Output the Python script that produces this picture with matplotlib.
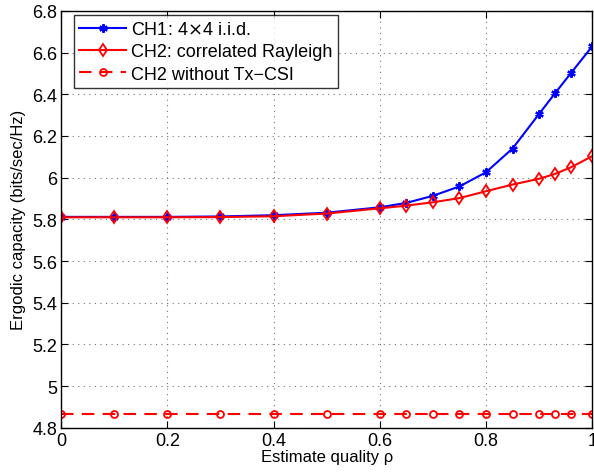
import matplotlib.pyplot as plt

plt.rcParams['font.family'] = ['Liberation Sans', 'DejaVu Sans']

rho = [0, 0.1, 0.2, 0.3, 0.4, 0.5, 0.6, 0.65, 0.7, 0.75, 0.8, 0.85, 0.9, 0.93, 0.96, 1.0]
ch1 = [5.812, 5.812, 5.812, 5.814, 5.820, 5.832, 5.858, 5.879, 5.913, 5.958,
       6.026, 6.140, 6.306, 6.405, 6.502, 6.630]
ch2 = [5.810, 5.810, 5.810, 5.811, 5.815, 5.828, 5.853, 5.866, 5.882, 5.902,
       5.935, 5.967, 5.995, 6.018, 6.050, 6.103]
ch2_nocsi = [4.865] * len(rho)

fig = plt.figure(figsize=(5.94, 4.77), dpi=100)
ax = fig.add_axes([0.103, 0.101, 0.894, 0.874])

ax.plot(rho, ch1, '-', marker=(6, 2, 0), color='b', lw=1.5, ms=6, mew=1.6,
        label=r'CH1: 4$\times$4 i.i.d.')
ax.plot(rho, ch2, '-d', color='r', lw=1.5, ms=6, mfc='none', mew=1.3,
        label='CH2: correlated Rayleigh')
ax.plot(rho, ch2_nocsi, '--o', color='r', lw=1.5, ms=5, mfc='none', mew=1.3,
        dashes=(6, 4), label='CH2 without Tx\u2212CSI')

ax.set_xlim(0, 1)
ax.set_ylim(4.8, 6.8)
ax.set_xticks([0, 0.2, 0.4, 0.6, 0.8, 1])
ax.set_xticklabels(['0', '0.2', '0.4', '0.6', '0.8', '1'])
ax.set_yticks([4.8, 5, 5.2, 5.4, 5.6, 5.8, 6, 6.2, 6.4, 6.6, 6.8])
ax.set_yticklabels(['4.8', '5', '5.2', '5.4', '5.6', '5.8', '6', '6.2', '6.4', '6.6', '6.8'])
ax.tick_params(direction='in', labelsize=13, length=5, top=True, right=True, pad=3)
ax.grid(True, linestyle=(0, (1, 4)), color='0.45', lw=0.8)
for s in ax.spines.values():
    s.set_linewidth(1.0)

ax.set_xlabel('Estimate quality \u03c1', fontsize=12, labelpad=0)
ax.set_ylabel('Ergodic capacity (bits/sec/Hz)', fontsize=12, labelpad=4)

leg = ax.legend(loc='upper left', fontsize=13, frameon=True, fancybox=False,
                edgecolor='k', handlelength=2.6, borderaxespad=0.25,
                labelspacing=0.3, borderpad=0.3, handletextpad=0.3,
                bbox_to_anchor=(0.015, 1.0))
leg.get_frame().set_linewidth(1.0)

fig.savefig('out.png', dpi=100)
